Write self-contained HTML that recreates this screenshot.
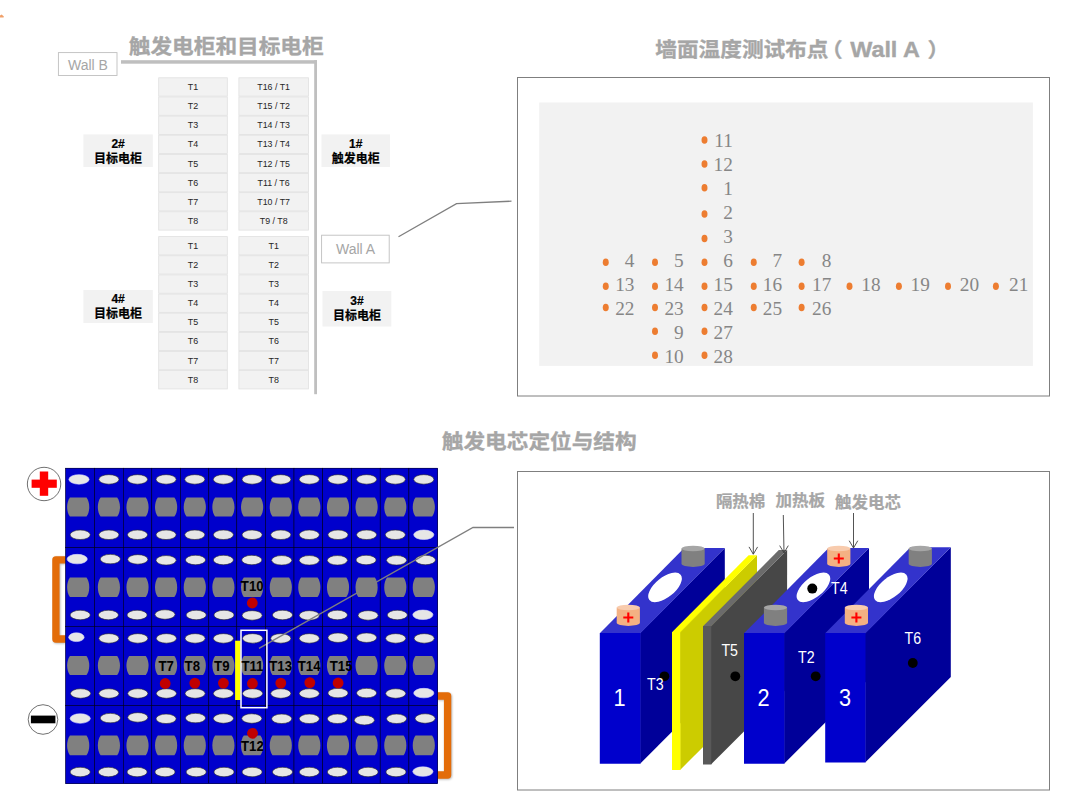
<!DOCTYPE html>
<html lang="zh-CN"><head><meta charset="utf-8"><title>触发电柜和目标电柜</title>
<style>
html,body{margin:0;padding:0;background:#fff;}
body{width:1080px;height:808px;position:relative;overflow:hidden;font-family:"Liberation Sans","Noto Sans CJK SC",sans-serif;}
svg{position:absolute;left:0;top:0;display:block;}
svg text{font-family:"Liberation Sans","Noto Sans CJK SC",sans-serif;white-space:pre;}
svg text.ser{font-family:"Liberation Serif","Noto Serif CJK SC",serif;}
.ttl{font-weight:bold;fill:#a6a6a6;stroke:#a6a6a6;stroke-width:0.35px;}
.c{font-size:9.4px;fill:#262626;}
.lb{font-size:12px;font-weight:bold;fill:#000;stroke:#000;stroke-width:0.2px;}
.wl{font-size:14px;fill:#a6a6a6;}
.n{font-size:19.3px;fill:#868686;}
.tg{font-size:13.9px;font-weight:bold;fill:#000;}
.tw{font-size:15.8px;fill:#fff;}
.nw{font-size:23.4px;fill:#fff;}
.pl{font-size:16.5px;font-weight:bold;fill:#a6a6a6;stroke:#a6a6a6;stroke-width:0.25px;}
</style></head><body>
<svg width="1080" height="808" viewBox="0 0 1080 808">

<polygon points="0,15.6 1.6,14.4 3.9,16.6 3.6,17.6 0,17.6" fill="#f0a06a"/>
<text transform="translate(128.80 53.80) scale(1.0 0.92)" text-anchor="start" class="ttl" font-size="21.65">触发电柜和目标电柜</text>
<rect x="121.00" y="60.20" width="196.00" height="3.50" fill="#bfbfbf" />
<rect x="314.20" y="60.20" width="2.80" height="334.00" fill="#bfbfbf" />
<rect x="58.40" y="52.60" width="58.60" height="22.90" fill="#fff" stroke="#bfbfbf" stroke-width="0.9"/>
<text x="88.00" y="69.80" text-anchor="middle" class="wl" >Wall B</text>
<rect x="321.60" y="235.20" width="67.60" height="27.70" fill="#fff" stroke="#bfbfbf" stroke-width="0.9"/>
<text x="355.60" y="254.20" text-anchor="middle" class="wl" >Wall A</text>
<rect x="158.70" y="77.80" width="68.60" height="18.34" fill="#f2f2f2" stroke="#e0e0e0" stroke-width="0.8"/>
<text transform="translate(193.00 89.97) scale(0.95 1.0)" text-anchor="middle" class="c" >T1</text>
<rect x="158.70" y="96.94" width="68.60" height="18.34" fill="#f2f2f2" stroke="#e0e0e0" stroke-width="0.8"/>
<text transform="translate(193.00 109.11) scale(0.95 1.0)" text-anchor="middle" class="c" >T2</text>
<rect x="158.70" y="116.08" width="68.60" height="18.34" fill="#f2f2f2" stroke="#e0e0e0" stroke-width="0.8"/>
<text transform="translate(193.00 128.25) scale(0.95 1.0)" text-anchor="middle" class="c" >T3</text>
<rect x="158.70" y="135.22" width="68.60" height="18.34" fill="#f2f2f2" stroke="#e0e0e0" stroke-width="0.8"/>
<text transform="translate(193.00 147.39) scale(0.95 1.0)" text-anchor="middle" class="c" >T4</text>
<rect x="158.70" y="154.36" width="68.60" height="18.34" fill="#f2f2f2" stroke="#e0e0e0" stroke-width="0.8"/>
<text transform="translate(193.00 166.53) scale(0.95 1.0)" text-anchor="middle" class="c" >T5</text>
<rect x="158.70" y="173.50" width="68.60" height="18.34" fill="#f2f2f2" stroke="#e0e0e0" stroke-width="0.8"/>
<text transform="translate(193.00 185.67) scale(0.95 1.0)" text-anchor="middle" class="c" >T6</text>
<rect x="158.70" y="192.64" width="68.60" height="18.34" fill="#f2f2f2" stroke="#e0e0e0" stroke-width="0.8"/>
<text transform="translate(193.00 204.81) scale(0.95 1.0)" text-anchor="middle" class="c" >T7</text>
<rect x="158.70" y="211.78" width="68.60" height="18.34" fill="#f2f2f2" stroke="#e0e0e0" stroke-width="0.8"/>
<text transform="translate(193.00 223.95) scale(0.95 1.0)" text-anchor="middle" class="c" >T8</text>
<rect x="238.90" y="77.80" width="69.50" height="18.34" fill="#f2f2f2" stroke="#e0e0e0" stroke-width="0.8"/>
<text transform="translate(273.65 89.97) scale(0.94 1.0)" text-anchor="middle" class="c" >T16 / T1</text>
<rect x="238.90" y="96.94" width="69.50" height="18.34" fill="#f2f2f2" stroke="#e0e0e0" stroke-width="0.8"/>
<text transform="translate(273.65 109.11) scale(0.94 1.0)" text-anchor="middle" class="c" >T15 / T2</text>
<rect x="238.90" y="116.08" width="69.50" height="18.34" fill="#f2f2f2" stroke="#e0e0e0" stroke-width="0.8"/>
<text transform="translate(273.65 128.25) scale(0.94 1.0)" text-anchor="middle" class="c" >T14 / T3</text>
<rect x="238.90" y="135.22" width="69.50" height="18.34" fill="#f2f2f2" stroke="#e0e0e0" stroke-width="0.8"/>
<text transform="translate(273.65 147.39) scale(0.94 1.0)" text-anchor="middle" class="c" >T13 / T4</text>
<rect x="238.90" y="154.36" width="69.50" height="18.34" fill="#f2f2f2" stroke="#e0e0e0" stroke-width="0.8"/>
<text transform="translate(273.65 166.53) scale(0.94 1.0)" text-anchor="middle" class="c" >T12 / T5</text>
<rect x="238.90" y="173.50" width="69.50" height="18.34" fill="#f2f2f2" stroke="#e0e0e0" stroke-width="0.8"/>
<text transform="translate(273.65 185.67) scale(0.94 1.0)" text-anchor="middle" class="c" >T11 / T6</text>
<rect x="238.90" y="192.64" width="69.50" height="18.34" fill="#f2f2f2" stroke="#e0e0e0" stroke-width="0.8"/>
<text transform="translate(273.65 204.81) scale(0.94 1.0)" text-anchor="middle" class="c" >T10 / T7</text>
<rect x="238.90" y="211.78" width="69.50" height="18.34" fill="#f2f2f2" stroke="#e0e0e0" stroke-width="0.8"/>
<text transform="translate(273.65 223.95) scale(0.94 1.0)" text-anchor="middle" class="c" >T9 / T8</text>
<rect x="158.70" y="236.60" width="68.60" height="18.34" fill="#f2f2f2" stroke="#e0e0e0" stroke-width="0.8"/>
<text transform="translate(193.00 248.77) scale(0.95 1.0)" text-anchor="middle" class="c" >T1</text>
<rect x="158.70" y="255.74" width="68.60" height="18.34" fill="#f2f2f2" stroke="#e0e0e0" stroke-width="0.8"/>
<text transform="translate(193.00 267.91) scale(0.95 1.0)" text-anchor="middle" class="c" >T2</text>
<rect x="158.70" y="274.88" width="68.60" height="18.34" fill="#f2f2f2" stroke="#e0e0e0" stroke-width="0.8"/>
<text transform="translate(193.00 287.05) scale(0.95 1.0)" text-anchor="middle" class="c" >T3</text>
<rect x="158.70" y="294.02" width="68.60" height="18.34" fill="#f2f2f2" stroke="#e0e0e0" stroke-width="0.8"/>
<text transform="translate(193.00 306.19) scale(0.95 1.0)" text-anchor="middle" class="c" >T4</text>
<rect x="158.70" y="313.16" width="68.60" height="18.34" fill="#f2f2f2" stroke="#e0e0e0" stroke-width="0.8"/>
<text transform="translate(193.00 325.33) scale(0.95 1.0)" text-anchor="middle" class="c" >T5</text>
<rect x="158.70" y="332.30" width="68.60" height="18.34" fill="#f2f2f2" stroke="#e0e0e0" stroke-width="0.8"/>
<text transform="translate(193.00 344.47) scale(0.95 1.0)" text-anchor="middle" class="c" >T6</text>
<rect x="158.70" y="351.44" width="68.60" height="18.34" fill="#f2f2f2" stroke="#e0e0e0" stroke-width="0.8"/>
<text transform="translate(193.00 363.61) scale(0.95 1.0)" text-anchor="middle" class="c" >T7</text>
<rect x="158.70" y="370.58" width="68.60" height="18.34" fill="#f2f2f2" stroke="#e0e0e0" stroke-width="0.8"/>
<text transform="translate(193.00 382.75) scale(0.95 1.0)" text-anchor="middle" class="c" >T8</text>
<rect x="238.90" y="236.60" width="69.50" height="18.34" fill="#f2f2f2" stroke="#e0e0e0" stroke-width="0.8"/>
<text transform="translate(273.65 248.77) scale(0.95 1.0)" text-anchor="middle" class="c" >T1</text>
<rect x="238.90" y="255.74" width="69.50" height="18.34" fill="#f2f2f2" stroke="#e0e0e0" stroke-width="0.8"/>
<text transform="translate(273.65 267.91) scale(0.95 1.0)" text-anchor="middle" class="c" >T2</text>
<rect x="238.90" y="274.88" width="69.50" height="18.34" fill="#f2f2f2" stroke="#e0e0e0" stroke-width="0.8"/>
<text transform="translate(273.65 287.05) scale(0.95 1.0)" text-anchor="middle" class="c" >T3</text>
<rect x="238.90" y="294.02" width="69.50" height="18.34" fill="#f2f2f2" stroke="#e0e0e0" stroke-width="0.8"/>
<text transform="translate(273.65 306.19) scale(0.95 1.0)" text-anchor="middle" class="c" >T4</text>
<rect x="238.90" y="313.16" width="69.50" height="18.34" fill="#f2f2f2" stroke="#e0e0e0" stroke-width="0.8"/>
<text transform="translate(273.65 325.33) scale(0.95 1.0)" text-anchor="middle" class="c" >T5</text>
<rect x="238.90" y="332.30" width="69.50" height="18.34" fill="#f2f2f2" stroke="#e0e0e0" stroke-width="0.8"/>
<text transform="translate(273.65 344.47) scale(0.95 1.0)" text-anchor="middle" class="c" >T6</text>
<rect x="238.90" y="351.44" width="69.50" height="18.34" fill="#f2f2f2" stroke="#e0e0e0" stroke-width="0.8"/>
<text transform="translate(273.65 363.61) scale(0.95 1.0)" text-anchor="middle" class="c" >T7</text>
<rect x="238.90" y="370.58" width="69.50" height="18.34" fill="#f2f2f2" stroke="#e0e0e0" stroke-width="0.8"/>
<text transform="translate(273.65 382.75) scale(0.95 1.0)" text-anchor="middle" class="c" >T8</text>
<rect x="83.40" y="134.40" width="69.40" height="32.60" fill="#f2f2f2" />
<text x="118.10" y="147.80" text-anchor="middle" class="lb" >2#</text>
<text transform="translate(118.10 163.00) scale(1.0 1.03)" text-anchor="middle" class="lb" >目标电柜</text>
<rect x="321.50" y="134.40" width="68.50" height="32.60" fill="#f2f2f2" />
<text x="355.75" y="147.80" text-anchor="middle" class="lb" >1#</text>
<text transform="translate(355.75 163.00) scale(1.0 1.03)" text-anchor="middle" class="lb" >触发电柜</text>
<rect x="83.40" y="290.00" width="69.40" height="33.00" fill="#f2f2f2" />
<text x="118.10" y="303.20" text-anchor="middle" class="lb" >4#</text>
<text transform="translate(118.10 318.40) scale(1.0 1.03)" text-anchor="middle" class="lb" >目标电柜</text>
<rect x="322.50" y="291.00" width="68.80" height="35.50" fill="#f2f2f2" />
<text x="356.90" y="304.80" text-anchor="middle" class="lb" >3#</text>
<text transform="translate(356.90 320.00) scale(1.0 1.03)" text-anchor="middle" class="lb" >目标电柜</text>
<text transform="translate(655.30 56.90) scale(1.0 0.92)" text-anchor="start" class="ttl" font-size="21.65">墙面温度测试布点</text>
<text transform="translate(821.00 56.90) scale(1.0 0.92)" text-anchor="start" class="ttl" font-size="21.65">（</text>
<text transform="translate(850.20 56.60) scale(1.08 1.03)" text-anchor="start" class="ttl" font-size="21.65">Wall A</text>
<text transform="translate(927.40 56.90) scale(1.0 0.92)" text-anchor="start" class="ttl" font-size="21.65">）</text>
<rect x="517.50" y="77.50" width="532.00" height="318.50" fill="#fff" stroke="#7f7f7f" stroke-width="1"/>
<rect x="539.20" y="102.50" width="493.70" height="263.40" fill="#f2f2f2" />
<ellipse cx="704.50" cy="140.00" rx="3" ry="3.8" fill="#ed7d31"/>
<text x="732.90" y="147.20" text-anchor="end" class="n ser" >11</text>
<ellipse cx="704.50" cy="164.00" rx="3" ry="3.8" fill="#ed7d31"/>
<text x="732.90" y="171.13" text-anchor="end" class="n ser" >12</text>
<ellipse cx="704.50" cy="187.75" rx="3" ry="3.8" fill="#ed7d31"/>
<text x="732.90" y="195.06" text-anchor="end" class="n ser" >1</text>
<ellipse cx="704.50" cy="214.00" rx="3" ry="3.8" fill="#ed7d31"/>
<text x="732.90" y="218.99" text-anchor="end" class="n ser" >2</text>
<ellipse cx="704.50" cy="238.50" rx="3" ry="3.8" fill="#ed7d31"/>
<text x="732.90" y="242.92" text-anchor="end" class="n ser" >3</text>
<ellipse cx="605.75" cy="262.25" rx="3" ry="3.8" fill="#ed7d31"/>
<text x="634.44" y="266.85" text-anchor="end" class="n ser" >4</text>
<ellipse cx="655.00" cy="262.25" rx="3" ry="3.8" fill="#ed7d31"/>
<text x="683.67" y="266.85" text-anchor="end" class="n ser" >5</text>
<ellipse cx="704.50" cy="262.25" rx="3" ry="3.8" fill="#ed7d31"/>
<text x="732.90" y="266.85" text-anchor="end" class="n ser" >6</text>
<ellipse cx="753.75" cy="262.25" rx="3" ry="3.8" fill="#ed7d31"/>
<text x="782.13" y="266.85" text-anchor="end" class="n ser" >7</text>
<ellipse cx="801.60" cy="262.25" rx="3" ry="3.8" fill="#ed7d31"/>
<text x="831.36" y="266.85" text-anchor="end" class="n ser" >8</text>
<ellipse cx="605.75" cy="286.25" rx="3" ry="3.8" fill="#ed7d31"/>
<text x="634.44" y="290.78" text-anchor="end" class="n ser" >13</text>
<ellipse cx="655.00" cy="286.25" rx="3" ry="3.8" fill="#ed7d31"/>
<text x="683.67" y="290.78" text-anchor="end" class="n ser" >14</text>
<ellipse cx="704.50" cy="286.25" rx="3" ry="3.8" fill="#ed7d31"/>
<text x="732.90" y="290.78" text-anchor="end" class="n ser" >15</text>
<ellipse cx="753.75" cy="286.25" rx="3" ry="3.8" fill="#ed7d31"/>
<text x="782.13" y="290.78" text-anchor="end" class="n ser" >16</text>
<ellipse cx="801.60" cy="286.25" rx="3" ry="3.8" fill="#ed7d31"/>
<text x="831.36" y="290.78" text-anchor="end" class="n ser" >17</text>
<ellipse cx="849.50" cy="286.25" rx="3" ry="3.8" fill="#ed7d31"/>
<text x="880.59" y="290.78" text-anchor="end" class="n ser" >18</text>
<ellipse cx="898.90" cy="286.25" rx="3" ry="3.8" fill="#ed7d31"/>
<text x="929.82" y="290.78" text-anchor="end" class="n ser" >19</text>
<ellipse cx="948.00" cy="286.25" rx="3" ry="3.8" fill="#ed7d31"/>
<text x="979.05" y="290.78" text-anchor="end" class="n ser" >20</text>
<ellipse cx="995.90" cy="286.25" rx="3" ry="3.8" fill="#ed7d31"/>
<text x="1028.28" y="290.78" text-anchor="end" class="n ser" >21</text>
<ellipse cx="605.75" cy="307.50" rx="3" ry="3.8" fill="#ed7d31"/>
<text x="634.44" y="314.71" text-anchor="end" class="n ser" >22</text>
<ellipse cx="655.00" cy="307.50" rx="3" ry="3.8" fill="#ed7d31"/>
<text x="683.67" y="314.71" text-anchor="end" class="n ser" >23</text>
<ellipse cx="704.50" cy="307.50" rx="3" ry="3.8" fill="#ed7d31"/>
<text x="732.90" y="314.71" text-anchor="end" class="n ser" >24</text>
<ellipse cx="753.75" cy="307.50" rx="3" ry="3.8" fill="#ed7d31"/>
<text x="782.13" y="314.71" text-anchor="end" class="n ser" >25</text>
<ellipse cx="801.60" cy="307.50" rx="3" ry="3.8" fill="#ed7d31"/>
<text x="831.36" y="314.71" text-anchor="end" class="n ser" >26</text>
<ellipse cx="655.00" cy="331.25" rx="3" ry="3.8" fill="#ed7d31"/>
<text x="683.67" y="338.64" text-anchor="end" class="n ser" >9</text>
<ellipse cx="704.50" cy="331.25" rx="3" ry="3.8" fill="#ed7d31"/>
<text x="732.90" y="338.64" text-anchor="end" class="n ser" >27</text>
<ellipse cx="655.00" cy="355.25" rx="3" ry="3.8" fill="#ed7d31"/>
<text x="683.67" y="362.57" text-anchor="end" class="n ser" >10</text>
<ellipse cx="704.50" cy="355.25" rx="3" ry="3.8" fill="#ed7d31"/>
<text x="732.90" y="362.57" text-anchor="end" class="n ser" >28</text>
<text transform="translate(441.80 449.00) scale(1.0 0.92)" text-anchor="start" class="ttl" font-size="21.65">触发电芯定位与结构</text>
<rect x="517.50" y="471.50" width="532.00" height="318.50" fill="#fff" stroke="#7f7f7f" stroke-width="1"/>
<polyline points="398.5,236.8 456.5,203.7 511.5,201.2" fill="none" stroke="#7f7f7f" stroke-width="1.3"/>
<defs><filter id="sh" x="-50%" y="-20%" width="200%" height="140%"><feGaussianBlur stdDeviation="1.1"/></filter></defs>
<path d="M65.5,560.6 H56.7 V639.8 H65.5" fill="none" stroke="#000" stroke-opacity="0.3" stroke-width="7.3" stroke-linejoin="round" filter="url(#sh)"/>
<path d="M437.6,696.8 H448.4 V775.8 H437.6" fill="none" stroke="#000" stroke-opacity="0.3" stroke-width="7.3" stroke-linejoin="round" filter="url(#sh)"/>
<path d="M65.5,559.8 H55.9 V639 H65.5" fill="none" stroke="#e36c09" stroke-width="7.3" stroke-linejoin="round"/>
<path d="M437.6,696 H447.6 V775 H437.6" fill="none" stroke="#e36c09" stroke-width="7.3" stroke-linejoin="round"/>
<rect x="65.60" y="468.20" width="372.10" height="315.50" fill="#0000cc" />
<rect x="65.60" y="468.20" width="29.00" height="79.40" fill="#0000cc" stroke="#00001a" stroke-width="0.55"/>
<rect x="94.60" y="468.20" width="28.70" height="79.40" fill="#0000cc" stroke="#00001a" stroke-width="0.55"/>
<rect x="123.30" y="468.20" width="28.50" height="79.40" fill="#0000cc" stroke="#00001a" stroke-width="0.55"/>
<rect x="151.80" y="468.20" width="28.70" height="79.40" fill="#0000cc" stroke="#00001a" stroke-width="0.55"/>
<rect x="180.50" y="468.20" width="28.30" height="79.40" fill="#0000cc" stroke="#00001a" stroke-width="0.55"/>
<rect x="208.80" y="468.20" width="28.00" height="79.40" fill="#0000cc" stroke="#00001a" stroke-width="0.55"/>
<rect x="236.80" y="468.20" width="28.70" height="79.40" fill="#0000cc" stroke="#00001a" stroke-width="0.55"/>
<rect x="265.50" y="468.20" width="28.50" height="79.40" fill="#0000cc" stroke="#00001a" stroke-width="0.55"/>
<rect x="294.00" y="468.20" width="28.70" height="79.40" fill="#0000cc" stroke="#00001a" stroke-width="0.55"/>
<rect x="322.70" y="468.20" width="28.80" height="79.40" fill="#0000cc" stroke="#00001a" stroke-width="0.55"/>
<rect x="351.50" y="468.20" width="28.70" height="79.40" fill="#0000cc" stroke="#00001a" stroke-width="0.55"/>
<rect x="380.20" y="468.20" width="28.70" height="79.40" fill="#0000cc" stroke="#00001a" stroke-width="0.55"/>
<rect x="408.90" y="468.20" width="28.80" height="79.40" fill="#0000cc" stroke="#00001a" stroke-width="0.55"/>
<rect x="65.60" y="547.60" width="29.00" height="78.80" fill="#0000cc" stroke="#00001a" stroke-width="0.55"/>
<rect x="94.60" y="547.60" width="28.70" height="78.80" fill="#0000cc" stroke="#00001a" stroke-width="0.55"/>
<rect x="123.30" y="547.60" width="28.50" height="78.80" fill="#0000cc" stroke="#00001a" stroke-width="0.55"/>
<rect x="151.80" y="547.60" width="28.70" height="78.80" fill="#0000cc" stroke="#00001a" stroke-width="0.55"/>
<rect x="180.50" y="547.60" width="28.30" height="78.80" fill="#0000cc" stroke="#00001a" stroke-width="0.55"/>
<rect x="208.80" y="547.60" width="28.00" height="78.80" fill="#0000cc" stroke="#00001a" stroke-width="0.55"/>
<rect x="236.80" y="547.60" width="28.70" height="78.80" fill="#0000cc" stroke="#00001a" stroke-width="0.55"/>
<rect x="265.50" y="547.60" width="28.50" height="78.80" fill="#0000cc" stroke="#00001a" stroke-width="0.55"/>
<rect x="294.00" y="547.60" width="28.70" height="78.80" fill="#0000cc" stroke="#00001a" stroke-width="0.55"/>
<rect x="322.70" y="547.60" width="28.80" height="78.80" fill="#0000cc" stroke="#00001a" stroke-width="0.55"/>
<rect x="351.50" y="547.60" width="28.70" height="78.80" fill="#0000cc" stroke="#00001a" stroke-width="0.55"/>
<rect x="380.20" y="547.60" width="28.70" height="78.80" fill="#0000cc" stroke="#00001a" stroke-width="0.55"/>
<rect x="408.90" y="547.60" width="28.80" height="78.80" fill="#0000cc" stroke="#00001a" stroke-width="0.55"/>
<rect x="65.60" y="626.40" width="29.00" height="79.10" fill="#0000cc" stroke="#00001a" stroke-width="0.55"/>
<rect x="94.60" y="626.40" width="28.70" height="79.10" fill="#0000cc" stroke="#00001a" stroke-width="0.55"/>
<rect x="123.30" y="626.40" width="28.50" height="79.10" fill="#0000cc" stroke="#00001a" stroke-width="0.55"/>
<rect x="151.80" y="626.40" width="28.70" height="79.10" fill="#0000cc" stroke="#00001a" stroke-width="0.55"/>
<rect x="180.50" y="626.40" width="28.30" height="79.10" fill="#0000cc" stroke="#00001a" stroke-width="0.55"/>
<rect x="208.80" y="626.40" width="28.00" height="79.10" fill="#0000cc" stroke="#00001a" stroke-width="0.55"/>
<rect x="236.80" y="626.40" width="28.70" height="79.10" fill="#0000cc" stroke="#00001a" stroke-width="0.55"/>
<rect x="265.50" y="626.40" width="28.50" height="79.10" fill="#0000cc" stroke="#00001a" stroke-width="0.55"/>
<rect x="294.00" y="626.40" width="28.70" height="79.10" fill="#0000cc" stroke="#00001a" stroke-width="0.55"/>
<rect x="322.70" y="626.40" width="28.80" height="79.10" fill="#0000cc" stroke="#00001a" stroke-width="0.55"/>
<rect x="351.50" y="626.40" width="28.70" height="79.10" fill="#0000cc" stroke="#00001a" stroke-width="0.55"/>
<rect x="380.20" y="626.40" width="28.70" height="79.10" fill="#0000cc" stroke="#00001a" stroke-width="0.55"/>
<rect x="408.90" y="626.40" width="28.80" height="79.10" fill="#0000cc" stroke="#00001a" stroke-width="0.55"/>
<rect x="65.60" y="705.50" width="29.00" height="78.20" fill="#0000cc" stroke="#00001a" stroke-width="0.55"/>
<rect x="94.60" y="705.50" width="28.70" height="78.20" fill="#0000cc" stroke="#00001a" stroke-width="0.55"/>
<rect x="123.30" y="705.50" width="28.50" height="78.20" fill="#0000cc" stroke="#00001a" stroke-width="0.55"/>
<rect x="151.80" y="705.50" width="28.70" height="78.20" fill="#0000cc" stroke="#00001a" stroke-width="0.55"/>
<rect x="180.50" y="705.50" width="28.30" height="78.20" fill="#0000cc" stroke="#00001a" stroke-width="0.55"/>
<rect x="208.80" y="705.50" width="28.00" height="78.20" fill="#0000cc" stroke="#00001a" stroke-width="0.55"/>
<rect x="236.80" y="705.50" width="28.70" height="78.20" fill="#0000cc" stroke="#00001a" stroke-width="0.55"/>
<rect x="265.50" y="705.50" width="28.50" height="78.20" fill="#0000cc" stroke="#00001a" stroke-width="0.55"/>
<rect x="294.00" y="705.50" width="28.70" height="78.20" fill="#0000cc" stroke="#00001a" stroke-width="0.55"/>
<rect x="322.70" y="705.50" width="28.80" height="78.20" fill="#0000cc" stroke="#00001a" stroke-width="0.55"/>
<rect x="351.50" y="705.50" width="28.70" height="78.20" fill="#0000cc" stroke="#00001a" stroke-width="0.55"/>
<rect x="380.20" y="705.50" width="28.70" height="78.20" fill="#0000cc" stroke="#00001a" stroke-width="0.55"/>
<rect x="408.90" y="705.50" width="28.80" height="78.20" fill="#0000cc" stroke="#00001a" stroke-width="0.55"/>
<ellipse cx="79.00" cy="479.40" rx="10.1" ry="4.75" fill="#e6e6e6" stroke="#d9d9ff" stroke-width="0.6"/>
<ellipse cx="108.90" cy="479.40" rx="10.1" ry="4.75" fill="#e6e6e6" stroke="#262626" stroke-width="0.6"/>
<ellipse cx="137.50" cy="479.40" rx="10.1" ry="4.75" fill="#e6e6e6" stroke="#262626" stroke-width="0.6"/>
<ellipse cx="166.10" cy="479.40" rx="10.1" ry="4.75" fill="#e6e6e6" stroke="#262626" stroke-width="0.6"/>
<ellipse cx="194.80" cy="479.40" rx="10.1" ry="4.75" fill="#e6e6e6" stroke="#262626" stroke-width="0.6"/>
<ellipse cx="223.40" cy="479.40" rx="10.1" ry="4.75" fill="#e6e6e6" stroke="#262626" stroke-width="0.6"/>
<ellipse cx="252.10" cy="479.40" rx="10.1" ry="4.75" fill="#e6e6e6" stroke="#262626" stroke-width="0.6"/>
<ellipse cx="280.80" cy="479.40" rx="10.1" ry="4.75" fill="#e6e6e6" stroke="#262626" stroke-width="0.6"/>
<ellipse cx="309.30" cy="479.40" rx="10.1" ry="4.75" fill="#e6e6e6" stroke="#262626" stroke-width="0.6"/>
<ellipse cx="338.00" cy="479.40" rx="10.1" ry="4.75" fill="#e6e6e6" stroke="#262626" stroke-width="0.6"/>
<ellipse cx="366.60" cy="479.40" rx="10.1" ry="4.75" fill="#e6e6e6" stroke="#262626" stroke-width="0.6"/>
<ellipse cx="395.30" cy="479.40" rx="10.1" ry="4.75" fill="#e6e6e6" stroke="#262626" stroke-width="0.6"/>
<ellipse cx="423.80" cy="479.40" rx="10.1" ry="4.75" fill="#e6e6e6" stroke="#262626" stroke-width="0.6"/>
<ellipse cx="80.20" cy="534.80" rx="10.1" ry="4.75" fill="#e6e6e6" stroke="#262626" stroke-width="0.6"/>
<ellipse cx="108.90" cy="534.80" rx="10.1" ry="4.75" fill="#e6e6e6" stroke="#262626" stroke-width="0.6"/>
<ellipse cx="137.50" cy="534.80" rx="10.1" ry="4.75" fill="#e6e6e6" stroke="#262626" stroke-width="0.6"/>
<ellipse cx="166.10" cy="534.80" rx="10.1" ry="4.75" fill="#e6e6e6" stroke="#262626" stroke-width="0.6"/>
<ellipse cx="194.80" cy="534.80" rx="10.1" ry="4.75" fill="#e6e6e6" stroke="#262626" stroke-width="0.6"/>
<ellipse cx="223.40" cy="534.80" rx="10.1" ry="4.75" fill="#e6e6e6" stroke="#262626" stroke-width="0.6"/>
<ellipse cx="252.10" cy="534.80" rx="10.1" ry="4.75" fill="#e6e6e6" stroke="#262626" stroke-width="0.6"/>
<ellipse cx="280.80" cy="534.80" rx="10.1" ry="4.75" fill="#e6e6e6" stroke="#262626" stroke-width="0.6"/>
<ellipse cx="309.30" cy="534.80" rx="10.1" ry="4.75" fill="#e6e6e6" stroke="#262626" stroke-width="0.6"/>
<ellipse cx="338.00" cy="534.80" rx="10.1" ry="4.75" fill="#e6e6e6" stroke="#262626" stroke-width="0.6"/>
<ellipse cx="366.60" cy="534.80" rx="10.1" ry="4.75" fill="#e6e6e6" stroke="#262626" stroke-width="0.6"/>
<ellipse cx="395.30" cy="534.80" rx="10.1" ry="4.75" fill="#e6e6e6" stroke="#262626" stroke-width="0.6"/>
<ellipse cx="423.80" cy="534.80" rx="10.1" ry="4.75" fill="#e6e6e6" stroke="#d9d9ff" stroke-width="0.6"/>
<ellipse cx="77.20" cy="559.10" rx="10.1" ry="4.75" fill="#e6e6e6" stroke="#d9d9ff" stroke-width="0.6"/>
<ellipse cx="110.30" cy="559.10" rx="10.1" ry="4.75" fill="#e6e6e6" stroke="#262626" stroke-width="0.6"/>
<ellipse cx="137.80" cy="559.40" rx="10.1" ry="4.75" fill="#e6e6e6" stroke="#262626" stroke-width="0.6"/>
<ellipse cx="166.10" cy="560.30" rx="10.1" ry="4.75" fill="#e6e6e6" stroke="#262626" stroke-width="0.6"/>
<ellipse cx="195.50" cy="560.00" rx="10.1" ry="4.75" fill="#e6e6e6" stroke="#262626" stroke-width="0.6"/>
<ellipse cx="223.40" cy="560.00" rx="10.1" ry="4.75" fill="#e6e6e6" stroke="#262626" stroke-width="0.6"/>
<ellipse cx="251.80" cy="560.00" rx="10.1" ry="4.75" fill="#e6e6e6" stroke="#262626" stroke-width="0.6"/>
<ellipse cx="281.70" cy="560.30" rx="10.1" ry="4.75" fill="#e6e6e6" stroke="#262626" stroke-width="0.6"/>
<ellipse cx="309.30" cy="560.30" rx="10.1" ry="4.75" fill="#e6e6e6" stroke="#262626" stroke-width="0.6"/>
<ellipse cx="337.40" cy="560.30" rx="10.1" ry="4.75" fill="#e6e6e6" stroke="#262626" stroke-width="0.6"/>
<ellipse cx="366.10" cy="560.00" rx="10.1" ry="4.75" fill="#e6e6e6" stroke="#262626" stroke-width="0.6"/>
<ellipse cx="396.60" cy="560.30" rx="10.1" ry="4.75" fill="#e6e6e6" stroke="#262626" stroke-width="0.6"/>
<ellipse cx="425.40" cy="560.00" rx="10.1" ry="4.75" fill="#e6e6e6" stroke="#262626" stroke-width="0.6"/>
<ellipse cx="80.20" cy="615.00" rx="10.1" ry="4.75" fill="#e6e6e6" stroke="#262626" stroke-width="0.6"/>
<ellipse cx="108.40" cy="615.00" rx="10.1" ry="4.75" fill="#e6e6e6" stroke="#262626" stroke-width="0.6"/>
<ellipse cx="137.10" cy="615.00" rx="10.1" ry="4.75" fill="#e6e6e6" stroke="#262626" stroke-width="0.6"/>
<ellipse cx="165.00" cy="614.50" rx="10.1" ry="4.75" fill="#e6e6e6" stroke="#262626" stroke-width="0.6"/>
<ellipse cx="196.20" cy="615.00" rx="10.1" ry="4.75" fill="#e6e6e6" stroke="#262626" stroke-width="0.6"/>
<ellipse cx="224.00" cy="615.00" rx="10.1" ry="4.75" fill="#e6e6e6" stroke="#262626" stroke-width="0.6"/>
<ellipse cx="252.10" cy="615.40" rx="10.1" ry="4.75" fill="#e6e6e6" stroke="#262626" stroke-width="0.6"/>
<ellipse cx="282.50" cy="615.00" rx="10.1" ry="4.75" fill="#e6e6e6" stroke="#262626" stroke-width="0.6"/>
<ellipse cx="309.30" cy="615.40" rx="10.1" ry="4.75" fill="#e6e6e6" stroke="#262626" stroke-width="0.6"/>
<ellipse cx="337.40" cy="615.00" rx="10.1" ry="4.75" fill="#e6e6e6" stroke="#262626" stroke-width="0.6"/>
<ellipse cx="368.10" cy="615.40" rx="10.1" ry="4.75" fill="#e6e6e6" stroke="#262626" stroke-width="0.6"/>
<ellipse cx="397.30" cy="615.00" rx="10.1" ry="4.75" fill="#e6e6e6" stroke="#262626" stroke-width="0.6"/>
<ellipse cx="422.90" cy="614.80" rx="10.1" ry="4.75" fill="#e6e6e6" stroke="#d9d9ff" stroke-width="0.6"/>
<ellipse cx="76.40" cy="637.20" rx="7.7" ry="4.4" fill="#e6e6e6" stroke="#d9d9ff" stroke-width="0.6"/>
<ellipse cx="108.90" cy="638.40" rx="10.1" ry="4.75" fill="#e6e6e6" stroke="#262626" stroke-width="0.6"/>
<ellipse cx="137.80" cy="638.40" rx="10.1" ry="4.75" fill="#e6e6e6" stroke="#262626" stroke-width="0.6"/>
<ellipse cx="166.40" cy="638.40" rx="10.1" ry="4.75" fill="#e6e6e6" stroke="#262626" stroke-width="0.6"/>
<ellipse cx="195.10" cy="638.40" rx="10.1" ry="4.75" fill="#e6e6e6" stroke="#262626" stroke-width="0.6"/>
<ellipse cx="223.40" cy="638.40" rx="10.1" ry="4.75" fill="#e6e6e6" stroke="#262626" stroke-width="0.6"/>
<ellipse cx="252.60" cy="638.40" rx="10.1" ry="4.75" fill="#e6e6e6" stroke="#262626" stroke-width="0.6"/>
<ellipse cx="280.80" cy="638.40" rx="10.1" ry="4.75" fill="#e6e6e6" stroke="#262626" stroke-width="0.6"/>
<ellipse cx="309.30" cy="638.40" rx="10.1" ry="4.75" fill="#e6e6e6" stroke="#262626" stroke-width="0.6"/>
<ellipse cx="338.00" cy="637.70" rx="10.1" ry="4.75" fill="#e6e6e6" stroke="#262626" stroke-width="0.6"/>
<ellipse cx="366.60" cy="637.70" rx="10.1" ry="4.75" fill="#e6e6e6" stroke="#262626" stroke-width="0.6"/>
<ellipse cx="395.70" cy="638.40" rx="10.1" ry="4.75" fill="#e6e6e6" stroke="#262626" stroke-width="0.6"/>
<ellipse cx="424.20" cy="638.40" rx="10.1" ry="4.75" fill="#e6e6e6" stroke="#262626" stroke-width="0.6"/>
<ellipse cx="80.60" cy="693.50" rx="10.1" ry="4.75" fill="#e6e6e6" stroke="#262626" stroke-width="0.6"/>
<ellipse cx="108.90" cy="693.50" rx="10.1" ry="4.75" fill="#e6e6e6" stroke="#262626" stroke-width="0.6"/>
<ellipse cx="137.80" cy="693.50" rx="10.1" ry="4.75" fill="#e6e6e6" stroke="#262626" stroke-width="0.6"/>
<ellipse cx="166.40" cy="693.50" rx="10.1" ry="4.75" fill="#e6e6e6" stroke="#262626" stroke-width="0.6"/>
<ellipse cx="195.10" cy="693.50" rx="10.1" ry="4.75" fill="#e6e6e6" stroke="#262626" stroke-width="0.6"/>
<ellipse cx="223.40" cy="693.50" rx="10.1" ry="4.75" fill="#e6e6e6" stroke="#262626" stroke-width="0.6"/>
<ellipse cx="252.60" cy="693.50" rx="10.1" ry="4.75" fill="#e6e6e6" stroke="#262626" stroke-width="0.6"/>
<ellipse cx="280.80" cy="693.50" rx="10.1" ry="4.75" fill="#e6e6e6" stroke="#262626" stroke-width="0.6"/>
<ellipse cx="309.30" cy="693.50" rx="10.1" ry="4.75" fill="#e6e6e6" stroke="#262626" stroke-width="0.6"/>
<ellipse cx="338.00" cy="693.10" rx="10.1" ry="4.75" fill="#e6e6e6" stroke="#262626" stroke-width="0.6"/>
<ellipse cx="366.60" cy="693.10" rx="10.1" ry="4.75" fill="#e6e6e6" stroke="#262626" stroke-width="0.6"/>
<ellipse cx="395.70" cy="693.50" rx="10.1" ry="4.75" fill="#e6e6e6" stroke="#262626" stroke-width="0.6"/>
<ellipse cx="423.80" cy="693.10" rx="10.1" ry="4.75" fill="#e6e6e6" stroke="#d9d9ff" stroke-width="0.6"/>
<ellipse cx="80.20" cy="718.50" rx="10.1" ry="4.75" fill="#e6e6e6" stroke="#d9d9ff" stroke-width="0.6"/>
<ellipse cx="110.30" cy="718.10" rx="10.1" ry="4.75" fill="#e6e6e6" stroke="#262626" stroke-width="0.6"/>
<ellipse cx="137.80" cy="717.40" rx="10.1" ry="4.75" fill="#e6e6e6" stroke="#262626" stroke-width="0.6"/>
<ellipse cx="166.10" cy="718.80" rx="10.1" ry="4.75" fill="#e6e6e6" stroke="#262626" stroke-width="0.6"/>
<ellipse cx="195.50" cy="718.10" rx="10.1" ry="4.75" fill="#e6e6e6" stroke="#262626" stroke-width="0.6"/>
<ellipse cx="223.40" cy="718.50" rx="10.1" ry="4.75" fill="#e6e6e6" stroke="#262626" stroke-width="0.6"/>
<ellipse cx="251.80" cy="718.50" rx="10.1" ry="4.75" fill="#e6e6e6" stroke="#262626" stroke-width="0.6"/>
<ellipse cx="281.70" cy="718.80" rx="10.1" ry="4.75" fill="#e6e6e6" stroke="#262626" stroke-width="0.6"/>
<ellipse cx="309.30" cy="718.80" rx="10.1" ry="4.75" fill="#e6e6e6" stroke="#262626" stroke-width="0.6"/>
<ellipse cx="337.40" cy="718.80" rx="10.1" ry="4.75" fill="#e6e6e6" stroke="#262626" stroke-width="0.6"/>
<ellipse cx="364.40" cy="720.20" rx="10.1" ry="4.75" fill="#e6e6e6" stroke="#262626" stroke-width="0.6"/>
<ellipse cx="396.60" cy="718.80" rx="10.1" ry="4.75" fill="#e6e6e6" stroke="#262626" stroke-width="0.6"/>
<ellipse cx="425.10" cy="718.50" rx="10.1" ry="4.75" fill="#e6e6e6" stroke="#262626" stroke-width="0.6"/>
<ellipse cx="80.20" cy="772.00" rx="10.1" ry="4.75" fill="#e6e6e6" stroke="#262626" stroke-width="0.6"/>
<ellipse cx="108.40" cy="772.00" rx="10.1" ry="4.75" fill="#e6e6e6" stroke="#262626" stroke-width="0.6"/>
<ellipse cx="137.10" cy="772.00" rx="10.1" ry="4.75" fill="#e6e6e6" stroke="#262626" stroke-width="0.6"/>
<ellipse cx="165.00" cy="772.00" rx="10.1" ry="4.75" fill="#e6e6e6" stroke="#262626" stroke-width="0.6"/>
<ellipse cx="196.20" cy="772.00" rx="10.1" ry="4.75" fill="#e6e6e6" stroke="#262626" stroke-width="0.6"/>
<ellipse cx="224.00" cy="772.00" rx="10.1" ry="4.75" fill="#e6e6e6" stroke="#262626" stroke-width="0.6"/>
<ellipse cx="252.10" cy="772.00" rx="10.1" ry="4.75" fill="#e6e6e6" stroke="#262626" stroke-width="0.6"/>
<ellipse cx="282.50" cy="772.00" rx="10.1" ry="4.75" fill="#e6e6e6" stroke="#262626" stroke-width="0.6"/>
<ellipse cx="309.30" cy="772.00" rx="10.1" ry="4.75" fill="#e6e6e6" stroke="#262626" stroke-width="0.6"/>
<ellipse cx="337.40" cy="772.00" rx="10.1" ry="4.75" fill="#e6e6e6" stroke="#262626" stroke-width="0.6"/>
<ellipse cx="368.10" cy="772.00" rx="10.1" ry="4.75" fill="#e6e6e6" stroke="#262626" stroke-width="0.6"/>
<ellipse cx="396.00" cy="772.00" rx="10.1" ry="4.75" fill="#e6e6e6" stroke="#262626" stroke-width="0.6"/>
<ellipse cx="422.90" cy="771.60" rx="10.1" ry="4.75" fill="#e6e6e6" stroke="#d9d9ff" stroke-width="0.6"/>
<polyline points="259,648.4 473,527.5 514,527.5" fill="none" stroke="#7f7f7f" stroke-width="1.3"/>
<path d="M69.90,497.60 H86.50 C90.20,502.60 90.20,511.60 86.50,516.60 H69.90 C66.20,511.60 66.20,502.60 69.90,497.60 Z" fill="#808080"/>
<path d="M100.60,497.60 H117.20 C120.90,502.60 120.90,511.60 117.20,516.60 H100.60 C96.90,511.60 96.90,502.60 100.60,497.60 Z" fill="#808080"/>
<path d="M129.20,497.60 H145.80 C149.50,502.60 149.50,511.60 145.80,516.60 H129.20 C125.50,511.60 125.50,502.60 129.20,497.60 Z" fill="#808080"/>
<path d="M157.80,497.60 H174.40 C178.10,502.60 178.10,511.60 174.40,516.60 H157.80 C154.10,511.60 154.10,502.60 157.80,497.60 Z" fill="#808080"/>
<path d="M186.50,497.60 H203.10 C206.80,502.60 206.80,511.60 203.10,516.60 H186.50 C182.80,511.60 182.80,502.60 186.50,497.60 Z" fill="#808080"/>
<path d="M215.10,497.60 H231.70 C235.40,502.60 235.40,511.60 231.70,516.60 H215.10 C211.40,511.60 211.40,502.60 215.10,497.60 Z" fill="#808080"/>
<path d="M243.80,497.60 H260.40 C264.10,502.60 264.10,511.60 260.40,516.60 H243.80 C240.10,511.60 240.10,502.60 243.80,497.60 Z" fill="#808080"/>
<path d="M272.50,497.60 H289.10 C292.80,502.60 292.80,511.60 289.10,516.60 H272.50 C268.80,511.60 268.80,502.60 272.50,497.60 Z" fill="#808080"/>
<path d="M301.00,497.60 H317.60 C321.30,502.60 321.30,511.60 317.60,516.60 H301.00 C297.30,511.60 297.30,502.60 301.00,497.60 Z" fill="#808080"/>
<path d="M329.70,497.60 H346.30 C350.00,502.60 350.00,511.60 346.30,516.60 H329.70 C326.00,511.60 326.00,502.60 329.70,497.60 Z" fill="#808080"/>
<path d="M358.30,497.60 H374.90 C378.60,502.60 378.60,511.60 374.90,516.60 H358.30 C354.60,511.60 354.60,502.60 358.30,497.60 Z" fill="#808080"/>
<path d="M387.00,497.60 H403.60 C407.30,502.60 407.30,511.60 403.60,516.60 H387.00 C383.30,511.60 383.30,502.60 387.00,497.60 Z" fill="#808080"/>
<path d="M415.50,497.60 H432.10 C435.80,502.60 435.80,511.60 432.10,516.60 H415.50 C411.80,511.60 411.80,502.60 415.50,497.60 Z" fill="#808080"/>
<path d="M69.90,577.40 H86.50 C90.20,582.40 90.20,592.00 86.50,597.00 H69.90 C66.20,592.00 66.20,582.40 69.90,577.40 Z" fill="#808080"/>
<path d="M100.60,577.40 H117.20 C120.90,582.40 120.90,592.00 117.20,597.00 H100.60 C96.90,592.00 96.90,582.40 100.60,577.40 Z" fill="#808080"/>
<path d="M129.20,577.40 H145.80 C149.50,582.40 149.50,592.00 145.80,597.00 H129.20 C125.50,592.00 125.50,582.40 129.20,577.40 Z" fill="#808080"/>
<path d="M157.80,577.40 H174.40 C178.10,582.40 178.10,592.00 174.40,597.00 H157.80 C154.10,592.00 154.10,582.40 157.80,577.40 Z" fill="#808080"/>
<path d="M186.50,577.40 H203.10 C206.80,582.40 206.80,592.00 203.10,597.00 H186.50 C182.80,592.00 182.80,582.40 186.50,577.40 Z" fill="#808080"/>
<path d="M215.10,577.40 H231.70 C235.40,582.40 235.40,592.00 231.70,597.00 H215.10 C211.40,592.00 211.40,582.40 215.10,577.40 Z" fill="#808080"/>
<path d="M243.80,577.40 H260.40 C264.10,582.40 264.10,592.00 260.40,597.00 H243.80 C240.10,592.00 240.10,582.40 243.80,577.40 Z" fill="#808080"/>
<path d="M272.50,577.40 H289.10 C292.80,582.40 292.80,592.00 289.10,597.00 H272.50 C268.80,592.00 268.80,582.40 272.50,577.40 Z" fill="#808080"/>
<path d="M301.00,577.40 H317.60 C321.30,582.40 321.30,592.00 317.60,597.00 H301.00 C297.30,592.00 297.30,582.40 301.00,577.40 Z" fill="#808080"/>
<path d="M329.70,577.40 H346.30 C350.00,582.40 350.00,592.00 346.30,597.00 H329.70 C326.00,592.00 326.00,582.40 329.70,577.40 Z" fill="#808080"/>
<path d="M358.30,577.40 H374.90 C378.60,582.40 378.60,592.00 374.90,597.00 H358.30 C354.60,592.00 354.60,582.40 358.30,577.40 Z" fill="#808080"/>
<path d="M387.00,577.40 H403.60 C407.30,582.40 407.30,592.00 403.60,597.00 H387.00 C383.30,592.00 383.30,582.40 387.00,577.40 Z" fill="#808080"/>
<path d="M415.50,577.40 H432.10 C435.80,582.40 435.80,592.00 432.10,597.00 H415.50 C411.80,592.00 411.80,582.40 415.50,577.40 Z" fill="#808080"/>
<path d="M69.90,655.90 H86.50 C90.20,660.90 90.20,669.90 86.50,674.90 H69.90 C66.20,669.90 66.20,660.90 69.90,655.90 Z" fill="#808080"/>
<path d="M100.60,655.90 H117.20 C120.90,660.90 120.90,669.90 117.20,674.90 H100.60 C96.90,669.90 96.90,660.90 100.60,655.90 Z" fill="#808080"/>
<path d="M129.20,655.90 H145.80 C149.50,660.90 149.50,669.90 145.80,674.90 H129.20 C125.50,669.90 125.50,660.90 129.20,655.90 Z" fill="#808080"/>
<path d="M157.80,655.90 H174.40 C178.10,660.90 178.10,669.90 174.40,674.90 H157.80 C154.10,669.90 154.10,660.90 157.80,655.90 Z" fill="#808080"/>
<path d="M186.50,655.90 H203.10 C206.80,660.90 206.80,669.90 203.10,674.90 H186.50 C182.80,669.90 182.80,660.90 186.50,655.90 Z" fill="#808080"/>
<path d="M215.10,655.90 H231.70 C235.40,660.90 235.40,669.90 231.70,674.90 H215.10 C211.40,669.90 211.40,660.90 215.10,655.90 Z" fill="#808080"/>
<path d="M243.80,655.90 H260.40 C264.10,660.90 264.10,669.90 260.40,674.90 H243.80 C240.10,669.90 240.10,660.90 243.80,655.90 Z" fill="#808080"/>
<path d="M272.50,655.90 H289.10 C292.80,660.90 292.80,669.90 289.10,674.90 H272.50 C268.80,669.90 268.80,660.90 272.50,655.90 Z" fill="#808080"/>
<path d="M301.00,655.90 H317.60 C321.30,660.90 321.30,669.90 317.60,674.90 H301.00 C297.30,669.90 297.30,660.90 301.00,655.90 Z" fill="#808080"/>
<path d="M329.70,655.90 H346.30 C350.00,660.90 350.00,669.90 346.30,674.90 H329.70 C326.00,669.90 326.00,660.90 329.70,655.90 Z" fill="#808080"/>
<path d="M358.30,655.90 H374.90 C378.60,660.90 378.60,669.90 374.90,674.90 H358.30 C354.60,669.90 354.60,660.90 358.30,655.90 Z" fill="#808080"/>
<path d="M387.00,655.90 H403.60 C407.30,660.90 407.30,669.90 403.60,674.90 H387.00 C383.30,669.90 383.30,660.90 387.00,655.90 Z" fill="#808080"/>
<path d="M415.50,655.90 H432.10 C435.80,660.90 435.80,669.90 432.10,674.90 H415.50 C411.80,669.90 411.80,660.90 415.50,655.90 Z" fill="#808080"/>
<path d="M69.90,735.50 H86.50 C90.20,740.50 90.20,750.30 86.50,755.30 H69.90 C66.20,750.30 66.20,740.50 69.90,735.50 Z" fill="#808080"/>
<path d="M100.60,735.50 H117.20 C120.90,740.50 120.90,750.30 117.20,755.30 H100.60 C96.90,750.30 96.90,740.50 100.60,735.50 Z" fill="#808080"/>
<path d="M129.20,735.50 H145.80 C149.50,740.50 149.50,750.30 145.80,755.30 H129.20 C125.50,750.30 125.50,740.50 129.20,735.50 Z" fill="#808080"/>
<path d="M157.80,735.50 H174.40 C178.10,740.50 178.10,750.30 174.40,755.30 H157.80 C154.10,750.30 154.10,740.50 157.80,735.50 Z" fill="#808080"/>
<path d="M186.50,735.50 H203.10 C206.80,740.50 206.80,750.30 203.10,755.30 H186.50 C182.80,750.30 182.80,740.50 186.50,735.50 Z" fill="#808080"/>
<path d="M215.10,735.50 H231.70 C235.40,740.50 235.40,750.30 231.70,755.30 H215.10 C211.40,750.30 211.40,740.50 215.10,735.50 Z" fill="#808080"/>
<path d="M243.80,735.50 H260.40 C264.10,740.50 264.10,750.30 260.40,755.30 H243.80 C240.10,750.30 240.10,740.50 243.80,735.50 Z" fill="#808080"/>
<path d="M272.50,735.50 H289.10 C292.80,740.50 292.80,750.30 289.10,755.30 H272.50 C268.80,750.30 268.80,740.50 272.50,735.50 Z" fill="#808080"/>
<path d="M301.00,735.50 H317.60 C321.30,740.50 321.30,750.30 317.60,755.30 H301.00 C297.30,750.30 297.30,740.50 301.00,735.50 Z" fill="#808080"/>
<path d="M329.70,735.50 H346.30 C350.00,740.50 350.00,750.30 346.30,755.30 H329.70 C326.00,750.30 326.00,740.50 329.70,735.50 Z" fill="#808080"/>
<path d="M358.30,735.50 H374.90 C378.60,740.50 378.60,750.30 374.90,755.30 H358.30 C354.60,750.30 354.60,740.50 358.30,735.50 Z" fill="#808080"/>
<path d="M387.00,735.50 H403.60 C407.30,740.50 407.30,750.30 403.60,755.30 H387.00 C383.30,750.30 383.30,740.50 387.00,735.50 Z" fill="#808080"/>
<path d="M415.50,735.50 H432.10 C435.80,740.50 435.80,750.30 432.10,755.30 H415.50 C411.80,750.30 411.80,740.50 415.50,735.50 Z" fill="#808080"/>
<rect x="235.10" y="640.70" width="5.50" height="59.30" fill="#ffff00" />
<rect x="241.00" y="630.30" width="25.90" height="77.40" fill="none" stroke="#ffffff" stroke-width="1.5"/>
<circle cx="165.2" cy="683.5" r="5.4" fill="#c00000"/>
<circle cx="194.8" cy="683.1" r="5.4" fill="#c00000"/>
<circle cx="223.4" cy="683.1" r="5.4" fill="#c00000"/>
<circle cx="252.4" cy="683.5" r="5.4" fill="#c00000"/>
<circle cx="280.8" cy="683.1" r="5.4" fill="#c00000"/>
<circle cx="309.8" cy="682.6" r="5.4" fill="#c00000"/>
<circle cx="338.1" cy="683" r="5.4" fill="#c00000"/>
<circle cx="252.5" cy="733.3" r="5.4" fill="#c00000"/>
<circle cx="252.3" cy="603.0" r="5.4" fill="#c00000"/>
<text transform="translate(166.10 670.70) scale(0.95 1.0)" text-anchor="middle" class="tg" >T7</text>
<text transform="translate(192.30 670.70) scale(0.95 1.0)" text-anchor="middle" class="tg" >T8</text>
<text transform="translate(221.80 670.70) scale(0.95 1.0)" text-anchor="middle" class="tg" >T9</text>
<text transform="translate(252.40 670.70) scale(0.95 1.0)" text-anchor="middle" class="tg" >T11</text>
<text transform="translate(280.60 670.70) scale(0.95 1.0)" text-anchor="middle" class="tg" >T13</text>
<text transform="translate(309.10 670.70) scale(0.95 1.0)" text-anchor="middle" class="tg" >T14</text>
<text transform="translate(341.10 670.70) scale(0.95 1.0)" text-anchor="middle" class="tg" >T15</text>
<text transform="translate(252.40 750.70) scale(0.95 1.0)" text-anchor="middle" class="tg" >T12</text>
<text transform="translate(252.20 590.60) scale(0.95 1.0)" text-anchor="middle" class="tg" >T10</text>
<circle cx="44.05" cy="484.0" r="16.7" fill="#fff" stroke="#333" stroke-width="0.7"/>
<rect x="31.60" y="479.60" width="25.20" height="8.20" fill="#ff0000" />
<rect x="39.80" y="471.50" width="8.40" height="24.30" fill="#ff0000" />
<circle cx="43.0" cy="719.5" r="14.8" fill="#fff" stroke="#333" stroke-width="0.7"/>
<rect x="30.90" y="715.60" width="24.50" height="7.70" fill="#000" />
<polygon points="640.10,633.00 724.80,548.00 724.80,678.70 640.10,763.70" fill="#000099" />
<polygon points="599.80,633.30 640.40,633.30 724.80,548.00 684.20,548.00" fill="#3333cc" />
<polygon points="599.80,633.00 640.40,633.00 640.40,763.70 599.80,763.70" fill="#0000cc" />
<ellipse cx="665" cy="587.4" rx="20.1" ry="9.9" transform="rotate(-39 665 587.4)" fill="#fff"/>
<path d="M681.50,548.50 V564.10 A11.6 2.8 0 0 0 704.70,564.10 V548.50 Z" fill="#808080"/>
<ellipse cx="693.10" cy="548.50" rx="11.6" ry="2.8" fill="#a6a6a6"/>
<path d="M616.70,607.50 V623.10 A11.6 2.8 0 0 0 639.90,623.10 V607.50 Z" fill="#f4b183"/>
<ellipse cx="628.30" cy="607.50" rx="11.6" ry="2.8" fill="#f8cbad"/>
<path d="M623.30,617.50 H633.30 M628.30,612.50 V622.50" stroke="#ff0000" stroke-width="2.1" fill="none"/>
<polygon points="680.10,632.00 757.00,555.30 757.00,693.20 680.10,769.90" fill="#cccc00" />
<polygon points="672.00,632.30 680.40,632.30 757.00,555.30 748.60,555.30" fill="#ffff00" />
<polygon points="672.00,632.00 680.40,632.00 680.40,769.90 672.00,769.90" fill="#ffff00" />
<polygon points="711.00,626.00 787.10,550.00 787.10,688.40 711.00,764.40" fill="#474747" />
<polygon points="703.00,626.30 711.30,626.30 787.10,550.00 778.80,550.00" fill="#6b6b6b" />
<polygon points="703.00,626.00 711.30,626.00 711.30,764.40 703.00,764.40" fill="#595959" />
<polygon points="784.10,633.00 869.00,548.00 869.00,678.70 784.10,763.70" fill="#000099" />
<polygon points="744.00,633.30 784.40,633.30 869.00,548.00 828.60,548.00" fill="#3333cc" />
<polygon points="744.00,633.00 784.40,633.00 784.40,763.70 744.00,763.70" fill="#0000cc" />
<ellipse cx="813.4" cy="587.4" rx="20.1" ry="9.9" transform="rotate(-39 813.4 587.4)" fill="#fff"/>
<circle cx="812.3" cy="588.6" r="5" fill="#000"/>
<path d="M827.20,548.50 V564.10 A11.6 2.8 0 0 0 850.40,564.10 V548.50 Z" fill="#f4b183"/>
<ellipse cx="838.80" cy="548.50" rx="11.6" ry="2.8" fill="#f8cbad"/>
<path d="M833.80,558.50 H843.80 M838.80,553.50 V563.50" stroke="#ff0000" stroke-width="2.1" fill="none"/>
<path d="M763.90,607.50 V623.10 A11.6 2.8 0 0 0 787.10,623.10 V607.50 Z" fill="#808080"/>
<ellipse cx="775.50" cy="607.50" rx="11.6" ry="2.8" fill="#a6a6a6"/>
<polygon points="865.20,633.00 950.80,547.30 950.80,676.90 865.20,762.60" fill="#000099" />
<polygon points="825.20,633.30 865.50,633.30 950.80,547.30 910.50,547.30" fill="#3333cc" />
<polygon points="825.20,633.00 865.50,633.00 865.50,762.60 825.20,762.60" fill="#0000cc" />
<ellipse cx="890.7" cy="587.4" rx="20.1" ry="9.9" transform="rotate(-39 890.7 587.4)" fill="#fff"/>
<path d="M908.70,548.50 V564.10 A11.6 2.8 0 0 0 931.90,564.10 V548.50 Z" fill="#808080"/>
<ellipse cx="920.30" cy="548.50" rx="11.6" ry="2.8" fill="#a6a6a6"/>
<path d="M844.80,607.50 V623.10 A11.6 2.8 0 0 0 868.00,623.10 V607.50 Z" fill="#f4b183"/>
<ellipse cx="856.40" cy="607.50" rx="11.6" ry="2.8" fill="#f8cbad"/>
<path d="M851.40,617.50 H861.40 M856.40,612.50 V622.50" stroke="#ff0000" stroke-width="2.1" fill="none"/>
<circle cx="664.4" cy="676.3" r="4.9" fill="#000"/>
<circle cx="735.3" cy="676.3" r="4.9" fill="#000"/>
<circle cx="815.7" cy="676.3" r="4.9" fill="#000"/>
<circle cx="912.8" cy="663" r="4.9" fill="#000"/>
<text transform="translate(655.40 690.20) scale(0.9 1.0)" text-anchor="middle" class="tw" >T3</text>
<text transform="translate(729.70 656.00) scale(0.9 1.0)" text-anchor="middle" class="tw" >T5</text>
<text transform="translate(806.40 663.00) scale(0.9 1.0)" text-anchor="middle" class="tw" >T2</text>
<text transform="translate(912.90 643.80) scale(0.9 1.0)" text-anchor="middle" class="tw" >T6</text>
<text transform="translate(839.40 594.40) scale(0.9 1.0)" text-anchor="middle" class="tw" >T4</text>
<text transform="translate(619.60 706.20) scale(0.93 1.0)" text-anchor="middle" class="nw" >1</text>
<text transform="translate(763.50 706.20) scale(0.93 1.0)" text-anchor="middle" class="nw" >2</text>
<text transform="translate(845.00 705.60) scale(0.93 1.0)" text-anchor="middle" class="nw" >3</text>
<text transform="translate(740.60 506.80) scale(1.0 0.96)" text-anchor="middle" class="pl" >隔热棉</text>
<text transform="translate(800.30 505.90) scale(1.0 0.96)" text-anchor="middle" class="pl" >加热板</text>
<text transform="translate(868.00 507.50) scale(1.0 0.96)" text-anchor="middle" class="pl" >触发电芯</text>
<path d="M753.3,513 L753.3,554.2 M749.0,546.9000000000001 L753.3,554.2 L757.5999999999999,546.9000000000001" fill="none" stroke="#404040" stroke-width="0.9"/>
<path d="M783.3,515 L784.0,552.9 M779.7,545.6 L784.0,552.9 L788.3,545.6" fill="none" stroke="#404040" stroke-width="0.9"/>
<path d="M853.5,513 L853.5,548 M849.2,540.7 L853.5,548 L857.8,540.7" fill="none" stroke="#404040" stroke-width="0.9"/>
</svg>
</body></html>
